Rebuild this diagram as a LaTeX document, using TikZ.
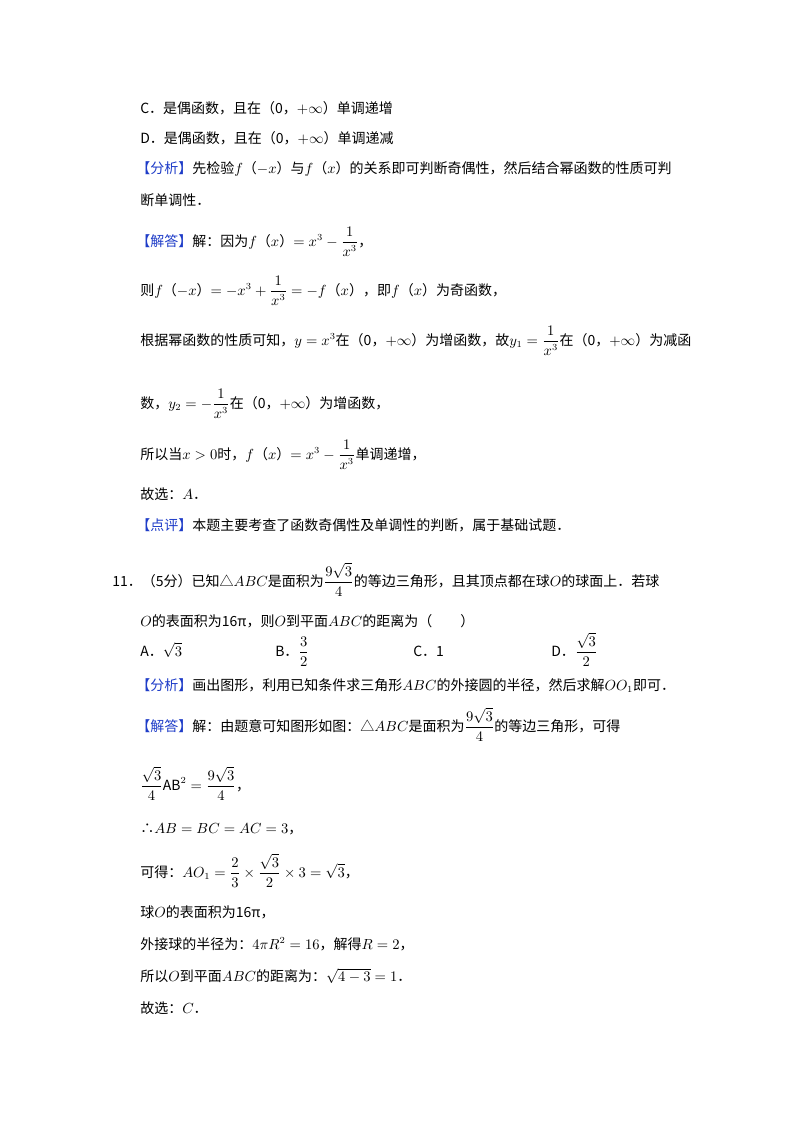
\documentclass[tikz,border=0pt]{standalone}
\usepackage{amsmath}
\usepackage{fontspec}
\setmainfont{Noto Sans CJK SC}
\definecolor{lblue}{RGB}{30,60,200}
\newcommand{\lb}[1]{\textcolor{lblue}{【#1】}}
\begin{document}
\begin{tikzpicture}[x=0.75pt,y=-0.75pt,
  t/.style={anchor=base west,inner sep=0pt,font=\fontsize{10.5}{12}\selectfont}]
\useasboundingbox[fill=white] (0,0) rectangle (800,1132);
\node[t] (c) at (140,113) {C．是偶函数，且在（0，$+\infty$）单调递增};
\node[t] (d) at (140,143) {D．是偶函数，且在（0，$+\infty$）单调递减};
\node[t] (a1) at (136,173) {\lb{分析}先检验$f$（$-x$）与$f$（$x$）的关系即可判断奇偶性，然后结合幂函数的性质可判};
\node[t] (a2) at (140,205) {断单调性．};
\node[t] (s1) at (136,246) {\lb{解答}解：因为$f$（$x$）$=x^3-\dfrac{1}{x^3}$，};
\node[t] (s2) at (140,295) {则$f$（$-x$）$=-x^3+\dfrac{1}{x^3}=-f$（$x$），即$f$（$x$）为奇函数，};
\node[t] (s3) at (140,345) {根据幂函数的性质可知，$y=x^3$在（0，$+\infty$）为增函数，故$y_1=\dfrac{1}{x^3}$在（0，$+\infty$）为减函};
\node[t] (s4) at (140,408) {数，$y_2=-\dfrac{1}{x^3}$在（0，$+\infty$）为增函数，};
\node[t] (s5) at (140,459) {所以当$x>0$时，$f$（$x$）$=x^3-\dfrac{1}{x^3}$单调递增，};
\node[t] (s6) at (140,499) {故选：$A$．};
\node[t] (p1) at (136,530) {\lb{点评}本题主要考查了函数奇偶性及单调性的判断，属于基础试题．};
\node[t] (q1) at (112,586) {11．（5分）已知△$ABC$是面积为$\dfrac{9\sqrt3}{4}$的等边三角形，且其顶点都在球$O$的球面上．若球};
\node[t] (q2) at (140,626) {$O$的表面积为16π，则$O$到平面$ABC$的距离为（\qquad）};
\node[t] (oa) at (140,656) {A．$\sqrt3$};
\node[t] (ob) at (275,656) {B．$\dfrac32$};
\node[t] (oc) at (413,656) {C．1};
\node[t] (od) at (551,656) {D．$\dfrac{\sqrt3}{2}$};
\node[t] (b1) at (136,690) {\lb{分析}画出图形，利用已知条件求三角形$ABC$的外接圆的半径，然后求解$OO_1$即可．};
\node[t] (b2) at (136,731) {\lb{解答}解：由题意可知图形如图：△$ABC$是面积为$\dfrac{9\sqrt3}{4}$的等边三角形，可得};
\node[t] (b3) at (140,790) {$\dfrac{\sqrt3}{4}\mathrm{AB}^2=\dfrac{9\sqrt3}{4}$，};
\node[t] (b4) at (140,833) {∴$AB=BC=AC=3$，};
\node[t] (b5) at (140,877) {可得：$AO_1=\dfrac23\times\dfrac{\sqrt3}{2}\times3=\sqrt3$，};
\node[t] (b6) at (140,917) {球$O$的表面积为16π，};
\node[t] (b7) at (140,949) {外接球的半径为：$4\pi R^2=16$，解得$R=2$，};
\node[t] (b8) at (140,981) {所以$O$到平面$ABC$的距离为：$\sqrt{4-3}=1$．};
\node[t] (b9) at (140,1013) {故选：$C$．};
\end{tikzpicture}
\end{document}
